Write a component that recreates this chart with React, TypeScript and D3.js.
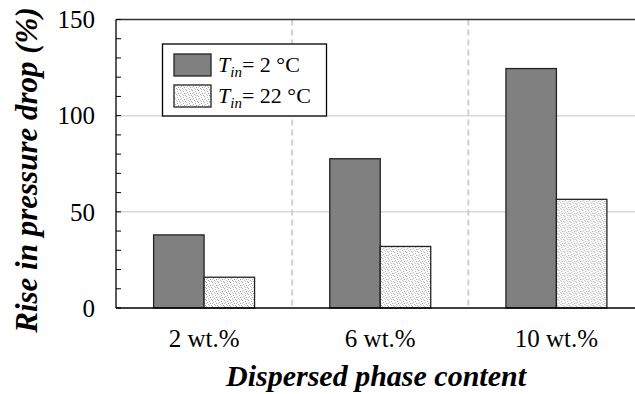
import * as d3 from "d3";

const CATEGORIES = ["2 wt.%", "6 wt.%", "10 wt.%"];
const SERIES = ["2", "22"];
const T2_VALUES = [38, 77.6, 124.5];
const T22_VALUES = [16, 32, 56.5];
const Y_TICKS = [0, 50, 100, 150];
const GRID_TICKS = [50, 100];

const W = 635;
const H = 394;
const mg = { l: 116, t: 19.5, b: 308, r: 644.5 };

export default function App() {
  const x = d3.scaleBand<string>().domain(CATEGORIES).range([mg.l, mg.r]);
  const xs = d3.scaleBand<string>().domain(SERIES).range([0, x.bandwidth()]).paddingOuter(0.745);
  const y = d3.scaleLinear().domain([0, 150]).range([mg.b, mg.t]);
  const minor = d3.range(0, 151, 10);
  const font = '"Liberation Serif", "Times New Roman", serif';

  const rows = CATEGORIES.map((c, i) => ({ c, vals: [T2_VALUES[i], T22_VALUES[i]] }));
  const fills = ["#808080", "url(#stip)"];

  return (
    <svg width={W} height={H} style={{ position: "absolute", left: 0, top: 0, background: "#fff", fontFamily: font }}>
      <defs>
        <pattern id="stip" width={6} height={6} patternUnits="userSpaceOnUse">
          <rect width={6} height={6} fill="#fbfbfb" />
          <rect x={0} y={0} width={1} height={1} fill="#a8a8a8" />
          <rect x={3} y={1} width={1} height={1} fill="#b4b4b4" />
          <rect x={1} y={2} width={1} height={1} fill="#bcbcbc" />
          <rect x={4} y={3} width={1} height={1} fill="#a0a0a0" />
          <rect x={2} y={4} width={1} height={1} fill="#b8b8b8" />
          <rect x={5} y={5} width={1} height={1} fill="#acacac" />
          <rect x={0} y={3} width={1} height={1} fill="#c8c8c8" />
          <rect x={3} y={5} width={1} height={1} fill="#c4c4c4" />
        </pattern>
      </defs>

      {/* grid */}
      {GRID_TICKS.map(v => (
        <line key={v} x1={mg.l} x2={W} y1={y(v)} y2={y(v)} stroke="#d8d8d8" strokeWidth={1.5} />
      ))}
      {CATEGORIES.slice(1).map(c => (
        <line key={c} x1={x(c)!} x2={x(c)!} y1={mg.t} y2={mg.b} stroke="#d0d0d0" strokeWidth={2} strokeDasharray="6,4" />
      ))}

      {/* bars */}
      {rows.map(r => (
        <g key={r.c} transform={`translate(${x(r.c)},0)`}>
          {r.vals.map((v, j) => (
            <rect key={j} x={xs(SERIES[j])} y={y(v)} width={xs.bandwidth()} height={y(0) - y(v)}
              fill={fills[j]} stroke="#222" strokeWidth={1.3} />
          ))}
        </g>
      ))}

      {/* frame */}
      <line x1={mg.l} x2={W} y1={mg.t} y2={mg.t} stroke="#333" strokeWidth={1.3} />
      <line x1={mg.l} x2={W} y1={mg.b} y2={mg.b} stroke="#000" strokeWidth={1.5} />
      <line x1={mg.l} x2={mg.l} y1={mg.t} y2={mg.b} stroke="#000" strokeWidth={1.3} />

      {/* y ticks */}
      {minor.map(v => (
        <line key={v} x1={mg.l} x2={mg.l + 5} y1={y(v)} y2={y(v)} stroke="#000" strokeWidth={1} />
      ))}
      {Y_TICKS.map(v => (
        <text key={v} x={95} y={y(v)} dy="0.35em" textAnchor="end" fontSize={25}>{v}</text>
      ))}

      {/* x labels */}
      {CATEGORIES.map(c => (
        <text key={c} x={x(c)! + x.bandwidth() / 2} y={347} textAnchor="middle" fontSize={25}>{c}</text>
      ))}

      <text x={376} y={386} textAnchor="middle" fontSize={30} fontWeight="bold" fontStyle="italic">
        Dispersed phase content
      </text>
      <text transform={`translate(37,170) rotate(-90)`} textAnchor="middle" fontSize={31} fontWeight="bold" fontStyle="italic">
        Rise in pressure drop (%)
      </text>

      {/* legend */}
      <rect x={162.5} y={44} width={164} height={72} fill="#fff" stroke="#000" strokeWidth={1.3} />
      {SERIES.map((s, i) => {
        const top = i === 0 ? 54 : 85;
        return (
          <g key={s}>
            <rect x={174} y={top} width={37} height={22} fill={fills[i]} stroke="#222" strokeWidth={1.3} />
            <text x={218} y={top + 18} fontSize={22}>
              <tspan fontStyle="italic">T</tspan>
              <tspan fontStyle="italic" fontSize={15} dy={5}>in</tspan>
              <tspan dy={-5}>= {s} °C</tspan>
            </text>
          </g>
        );
      })}
    </svg>
  );
}
